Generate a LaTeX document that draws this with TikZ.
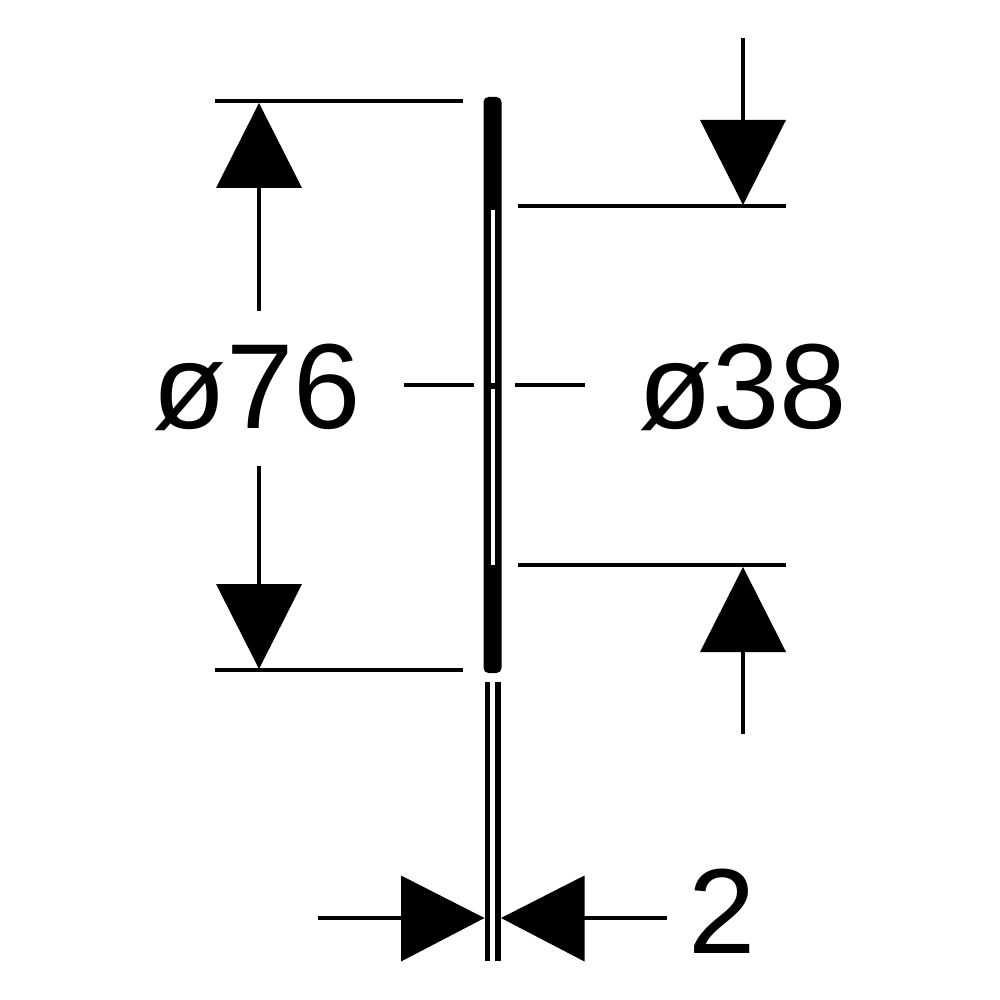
\documentclass[tikz,border=0pt]{standalone}
\usepackage{fontspec}
\setmainfont{Liberation Sans}
\tikzset{
  dim/.style={line width=2pt,draw=black},
  tip/.style={fill=black,draw=none},
  lbl/.style={font=\fontsize{60.5pt}{61pt}\selectfont,inner sep=0pt,anchor=base west,text=black},
}
\begin{document}
\begin{tikzpicture}[x=0.5pt,y=-0.5pt]
\useasboundingbox (0,0) rectangle (1000,1000);
\fill[white] (0,0) rectangle (1000,1000);
% part body
\fill[black,rounded corners=2.5pt] (483.5,97) rectangle (501.5,673);
\fill[white] (490.5,210) rectangle (494.5,383);
\fill[white] (490.5,389) rectangle (494.5,565);
\fill[black] (484.7,682) rectangle (490,961);
\fill[black] (495.3,682) rectangle (500.5,961);
% left dimension
\coordinate (lt1) at (215,101); \coordinate (lt2) at (463,101);
\coordinate (lb1) at (215,670); \coordinate (lb2) at (463,670);
\draw[dim] (lt1) -- (lt2);
\draw[dim] (lb1) -- (lb2);
\coordinate (lu1) at (259,188); \coordinate (lu2) at (259,311);
\coordinate (ld1) at (259,466); \coordinate (ld2) at (259,584);
\draw[dim] (lu1) -- (lu2);
\draw[dim] (ld1) -- (ld2);
\fill[tip] (259,103) -- (302,188) -- (216,188) -- cycle;
\fill[tip] (259,669) -- (302,584) -- (216,584) -- cycle;
% right dimension
\coordinate (rt1) at (518,206); \coordinate (rt2) at (786,206);
\coordinate (rb1) at (518,565); \coordinate (rb2) at (786,565);
\draw[dim] (rt1) -- (rt2);
\draw[dim] (rb1) -- (rb2);
\coordinate (ru1) at (743,38); \coordinate (ru2) at (743,120);
\coordinate (rd1) at (743,652); \coordinate (rd2) at (743,734);
\draw[dim] (ru1) -- (ru2);
\draw[dim] (rd1) -- (rd2);
\fill[tip] (743,205) -- (786,120) -- (700,120) -- cycle;
\fill[tip] (743,567) -- (786,652) -- (700,652) -- cycle;
% centre line
\coordinate (c1) at (404,385); \coordinate (c2) at (474,385);
\coordinate (c3) at (515,385); \coordinate (c4) at (585,385);
\draw[dim] (c1) -- (c2);
\draw[dim] (c3) -- (c4);
% thickness dimension
\coordinate (t1) at (318,918); \coordinate (t2) at (401,918);
\coordinate (t3) at (584,918); \coordinate (t4) at (667,918);
\draw[dim] (t1) -- (t2);
\draw[dim] (t3) -- (t4);
\fill[tip] (484.5,918) -- (401,875.5) -- (401,961.5) -- cycle;
\fill[tip] (501,918) -- (584.5,875.5) -- (584.5,961.5) -- cycle;
% labels
\node[lbl] (a) at (152,428.5) {ø76};
\node[lbl] (b) at (638,428.5) {ø38};
\node[lbl] (c) at (688,953) {2};
\end{tikzpicture}
\end{document}
